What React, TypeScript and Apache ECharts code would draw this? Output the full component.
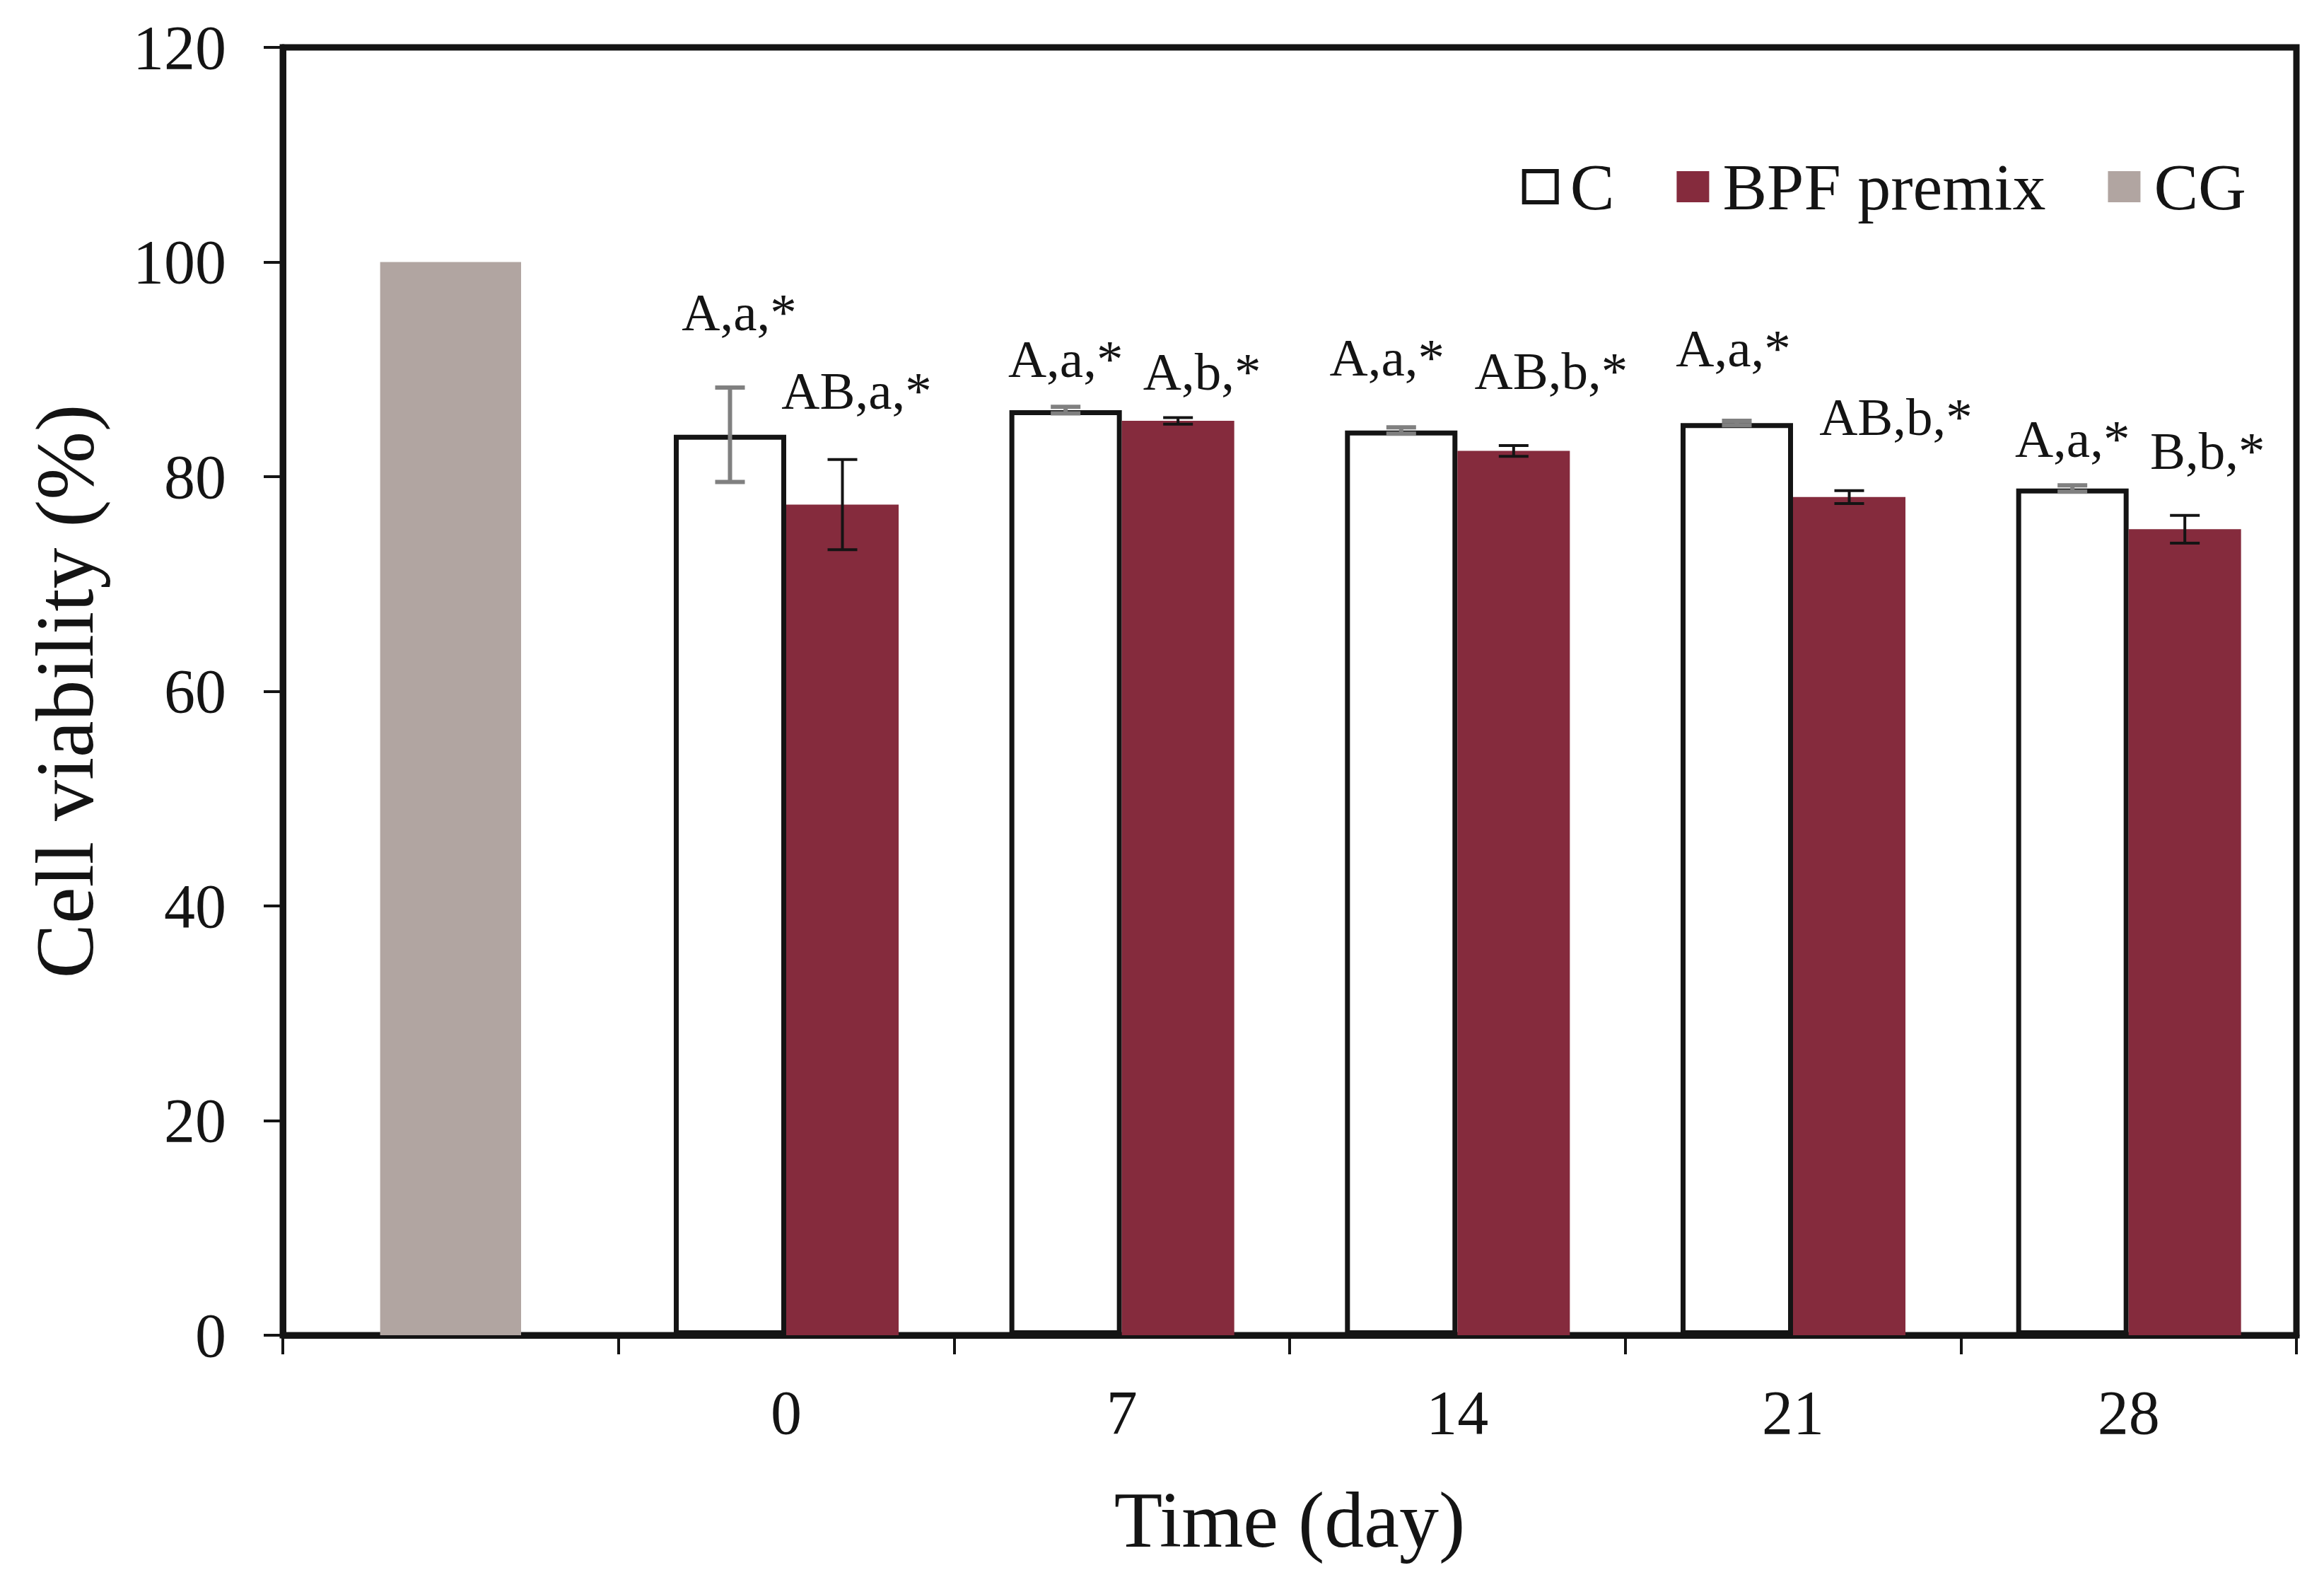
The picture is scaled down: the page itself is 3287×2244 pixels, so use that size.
import React, { useEffect, useRef } from "react";
import * as echarts from "echarts";

// ---- data ----
const categories = ["", "0", "7", "14", "21", "28"];
const cgValues = [100];
const cValues = [83.9, 86.2, 84.3, 85.0, 78.9];
const cErrors = [4.4, 0.3, 0.3, 0.2, 0.3];
const bpfValues = [77.4, 85.2, 82.4, 78.1, 75.1];
const bpfErrors = [4.2, 0.3, 0.5, 0.6, 1.3];
const cLabels = ["A,a,*", "A,a,*", "A,a,*", "A,a,*", "A,a,*"];
const bpfLabels = ["AB,a,*", "A,b,*", "AB,b,*", "AB,b,*", "B,b,*"];
const yTicks = { min: 0, max: 120, interval: 20 };

// ---- layout of annotation texts (pixel offsets: dx, baseline gap above bar top) ----
const cLabelOffsets = [[13, 148], [0, 47], [-20, 78], [-5, 80], [0, 45]];
const bpfLabelOffsets = [[20, 136], [34, 44], [53, 88], [66, 88], [32, 86]];

const FONT = "'Liberation Serif', 'Times New Roman', serif";
const INK = "#141414";
const BPF_COLOR = "#852B3D";
const CG_COLOR = "#B1A5A1";
const CAT_GAP = 0.33;

function makeErrorSeries(
  name: string,
  values: number[],
  errors: number[],
  labels: string[],
  offsets: number[][],
  side: number,
  color: string,
  lw: number
) {
  return {
    name,
    type: "custom",
    xAxisIndex: 0,
    yAxisIndex: 0,
    clip: false,
    z: 10,
    data: values.map((v, i) => [i + 1, v, errors[i], i]),
    renderItem: (params: any, api: any) => {
      const cat = api.value(0);
      const v = api.value(1);
      const e = api.value(2);
      const idx = api.value(3);
      const c = api.coord([cat, v]);
      const band = api.size([1, 0])[0];
      const bw = (band * (1 - CAT_GAP)) / 2;
      const x = c[0] + (side * bw) / 2;
      const yTop = api.coord([cat, v + e])[1];
      const yBot = api.coord([cat, v - e])[1];
      const cap = 21;
      const fs = 75;
      const off = offsets[idx];
      const ls = { stroke: color, lineWidth: lw };
      return {
        type: "group",
        children: [
          { type: "line", shape: { x1: x, y1: yTop, x2: x, y2: yBot }, style: ls },
          { type: "line", shape: { x1: x - cap, y1: yTop, x2: x + cap, y2: yTop }, style: ls },
          { type: "line", shape: { x1: x - cap, y1: yBot, x2: x + cap, y2: yBot }, style: ls },
          {
            type: "text",
            x: x + off[0],
            y: c[1] - off[1] - fs * 0.3375,
            style: {
              text: labels[idx],
              fill: INK,
              fontSize: fs,
              fontFamily: FONT,
              align: "center",
              verticalAlign: "middle",
              textAlign: "center",
              textVerticalAlign: "middle",
            },
          },
        ],
      };
    },
  };
}

export default function App() {
  const ref = useRef<HTMLDivElement>(null);

  useEffect(() => {
    document.body.style.margin = "0";
    if (!ref.current) return;
    const chart = echarts.init(ref.current, undefined, { renderer: "svg" });

    const padded = (vals: number[]) => ["-", ...vals];

    const option: any = {
      animation: false,
      backgroundColor: "#ffffff",
      grid: {
        left: 400,
        right: 39,
        top: 67,
        bottom: 356,
        show: true,
        borderColor: INK,
        borderWidth: 9,
        backgroundColor: "transparent",
      },
      legend: {
        right: 105,
        top: 212,
        itemWidth: 46,
        itemHeight: 44,
        itemGap: 88,
        icon: "rect",
        textStyle: { fontSize: 94, fontFamily: FONT, color: INK, padding: [0, 0, 0, 14] },
        data: [
          { name: "C", itemStyle: { color: "#ffffff", borderColor: INK, borderWidth: 6 } },
          { name: "BPF premix", itemStyle: { color: BPF_COLOR, borderWidth: 0 } },
          { name: "CG", itemStyle: { color: CG_COLOR, borderWidth: 0 } },
        ],
      },
      xAxis: [
        {
          type: "category",
          data: categories,
          name: "Time (day)",
          nameLocation: "middle",
          nameGap: 205,
          nameTextStyle: { fontSize: 112, fontFamily: FONT, color: INK },
          axisLine: { lineStyle: { color: INK, width: 9 } },
          axisTick: { show: true, length: 27, lineStyle: { color: INK, width: 4 } },
          axisLabel: { fontSize: 88, fontFamily: FONT, color: INK, margin: 65 },
          splitLine: { show: false },
        },
        {
          type: "category",
          data: categories,
          show: false,
        },
      ],
      yAxis: {
        type: "value",
        min: yTicks.min,
        max: yTicks.max,
        interval: yTicks.interval,
        name: "Cell viability (%)",
        nameLocation: "middle",
        nameGap: 250,
        nameTextStyle: { fontSize: 116, fontFamily: FONT, color: INK },
        axisLine: { show: true, lineStyle: { color: INK, width: 9 } },
        axisTick: { show: true, length: 27, lineStyle: { color: INK, width: 4 } },
        axisLabel: { fontSize: 88, fontFamily: FONT, color: INK, margin: 80 },
        splitLine: { show: false },
      },
      series: [
        {
          name: "C",
          type: "bar",
          xAxisIndex: 0,
          barGap: "0%",
          barCategoryGap: "33%",
          data: padded(cValues),
          itemStyle: { color: "#ffffff", borderColor: INK, borderWidth: 7 },
          z: 2,
        },
        {
          name: "BPF premix",
          type: "bar",
          xAxisIndex: 0,
          barGap: "0%",
          barCategoryGap: "33%",
          data: padded(bpfValues),
          itemStyle: { color: BPF_COLOR },
          z: 3,
        },
        {
          name: "CG",
          type: "bar",
          xAxisIndex: 1,
          barWidth: "42%",
          data: [...cgValues, "-", "-", "-", "-", "-"],
          itemStyle: { color: CG_COLOR },
          z: 2,
        },
        makeErrorSeries("C err", cValues, cErrors, cLabels, cLabelOffsets, -1, "#808080", 6),
        makeErrorSeries("BPF err", bpfValues, bpfErrors, bpfLabels, bpfLabelOffsets, 1, INK, 4),
      ],
    };

    chart.setOption(option);
    return () => chart.dispose();
  }, []);

  return <div ref={ref} style={{ width: "3287px", height: "2244px" }} />;
}
